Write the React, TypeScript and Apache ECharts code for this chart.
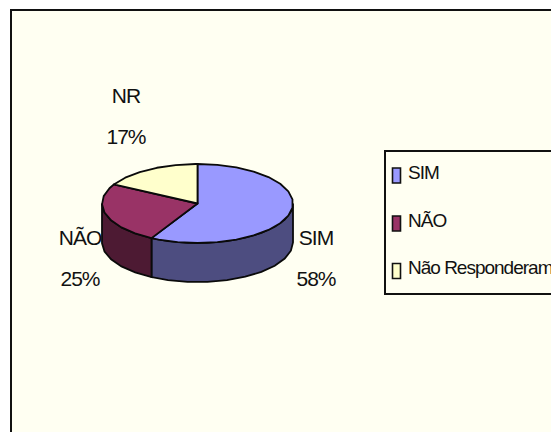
import React, { useEffect, useRef } from "react";
import * as echarts from "echarts";

const seriesNames = ["SIM", "NÃO", "Não Responderam"];
const labelNames = ["SIM", "NÃO", "NR"];
const shareValues = [58, 25, 17];
const topColors = ["#9999FF", "#993366", "#FFFFCC"];
const sideColors = ["#4D4D80", "#4D1A33", "#80806A"];

const WIDTH = 551;
const HEIGHT = 432;
const PIE = { cx: 197.5, cy: 203.5, rx: 95.5, ry: 39.5, depth: 39 };
const LABEL_ANCHORS = [
  { x: 316, y: 258 },
  { x: 80, y: 258 },
  { x: 126, y: 116 },
];
const LEGEND_BOX = { x: 385, y: 151, width: 300, height: 143 };
const LEGEND_SWATCH_TOPS = [168, 216, 263.5];
const LEGEND_TEXT_MIDS = [172, 220, 267];
const STROKE = "#0a0a0a";
const STEP = (12 * Math.PI) / 180;

const total = shareValues.reduce((a, b) => a + b, 0);

function rimPoint(t: number, dy = 0): number[] {
  return [PIE.cx + PIE.rx * Math.sin(t), PIE.cy - PIE.ry * Math.cos(t) + dy];
}

function arcPoints(from: number, to: number, dy = 0): number[][] {
  const pts: number[][] = [];
  for (let t = from; t < to; t += STEP) pts.push(rimPoint(t, dy));
  pts.push(rimPoint(to, dy));
  return pts;
}

// Each slice is a separate series: a side wall (front half only) and a top face.
function sliceRenderer(index: number) {
  return (_params: unknown, api: any) => {
    const value = api.value(0) as number;
    const before = shareValues.slice(0, index).reduce((a, b) => a + b, 0);
    const start = (before / total) * Math.PI * 2;
    const end = ((before + value) / total) * Math.PI * 2;
    const children: any[] = [];

    const wallFrom = Math.max(start, Math.PI / 2);
    const wallTo = Math.min(end, (Math.PI * 3) / 2);
    if (wallTo > wallFrom) {
      const upper = arcPoints(wallFrom, wallTo);
      const lower = arcPoints(wallFrom, wallTo, PIE.depth).reverse();
      children.push({
        type: "polygon",
        shape: { points: [...upper, ...lower] },
        style: { fill: sideColors[index], stroke: STROKE, lineWidth: 1.8 },
      });
    }
    children.push({
      type: "polygon",
      shape: { points: [[PIE.cx, PIE.cy], ...arcPoints(start, end)] },
      style: { fill: topColors[index], stroke: STROKE, lineWidth: 1.8, lineJoin: "round" },
    });
    const anchor = LABEL_ANCHORS[index];
    children.push({
      type: "text",
      x: anchor.x,
      y: anchor.y,
      style: {
        text: `${labelNames[index]}\n${value}%`,
        fill: "#111",
        font: '21px "Liberation Sans"',
        lineHeight: 41,
        align: "center",
        verticalAlign: "middle",
      },
    });
    return { type: "group", children };
  };
}

// Legend box runs past the right edge of the chart, so it is laid out by hand.
function legendGraphics() {
  const items: any[] = [
    {
      type: "rect",
      z: 1,
      shape: LEGEND_BOX,
      style: { fill: "transparent", stroke: "#111", lineWidth: 2 },
    },
  ];
  seriesNames.forEach((name, i) => {
    items.push({
      type: "rect",
      z: 1,
      shape: { x: 392.5, y: LEGEND_SWATCH_TOPS[i], width: 8, height: 15 },
      style: { fill: topColors[i], stroke: "#111", lineWidth: 1.6 },
    });
    items.push({
      type: "text",
      z: 1,
      x: 408,
      y: LEGEND_TEXT_MIDS[i],
      style: {
        text: name,
        fill: "#111",
        font: '19px "Liberation Sans"',
        verticalAlign: "middle",
      },
    });
  });
  return items;
}

export default function App() {
  const ref = useRef<HTMLDivElement>(null);

  useEffect(() => {
    document.body.style.margin = "0";
    const chart = echarts.init(ref.current!, null, { renderer: "svg" });
    chart.setOption({
      animation: false,
      backgroundColor: "#FFFFFF",
      graphic: [
        {
          type: "rect",
          z: -1,
          shape: { x: 11, y: 10, width: 700, height: 600 },
          style: { fill: "#FFFFF2", stroke: "#111", lineWidth: 2 },
        },
        ...legendGraphics(),
      ],
      series: seriesNames.map((name, i) => ({
        type: "custom",
        name,
        coordinateSystem: "none",
        itemStyle: { color: topColors[i] },
        renderItem: sliceRenderer(i),
        data: [[shareValues[i]]],
        silent: true,
      })),
    });
    return () => chart.dispose();
  }, []);

  return (
    <>
      <style>{`
        .pie-box svg text { letter-spacing: -1px; }
      `}</style>
      <div className="pie-box" ref={ref} style={{ width: WIDTH, height: HEIGHT }} />
    </>
  );
}
